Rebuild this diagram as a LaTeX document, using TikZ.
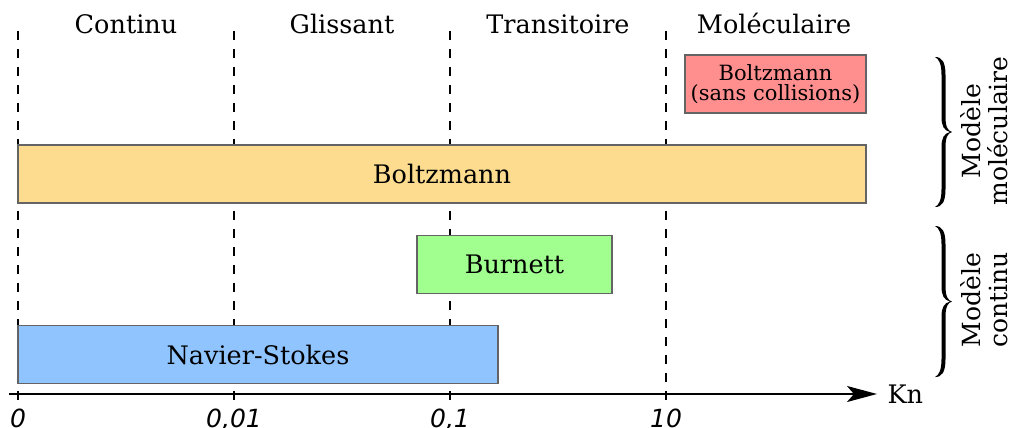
\documentclass[tikz,border=0pt]{standalone}
\usepackage{fontspec}
\setmainfont{DejaVu Serif}
\newfontfamily\tickfont{DejaVu Sans}
\usetikzlibrary{arrows.meta}
\definecolor{redbox}{RGB}{255,143,143}
\definecolor{yellowbox}{RGB}{253,220,143}
\definecolor{greenbox}{RGB}{160,255,143}
\definecolor{bluebox}{RGB}{143,196,255}
\definecolor{boxline}{RGB}{100,100,100}
\begin{document}
\begin{tikzpicture}[x=1pt,y=-1pt,
  modelbox/.style={draw=boxline,line width=1.2pt,inner sep=0pt,minimum height=58pt,
    font=\fontsize{25.5}{28}\selectfont,text=black},
  regime/.style={anchor=base,font=\fontsize{25.5}{28}\selectfont},
  tick/.style={anchor=base,font=\tickfont\itshape\fontsize{25}{28}\selectfont},
  sep/.style={line width=1.4pt,dash pattern=on 9pt off 9pt},
  side/.style={rotate=90,align=center,font=\fontsize{25}{27.5}\selectfont},
  bracepic/.pic={
    \fill[black] (0,0) .. controls (7,0) and (10.5,5) .. (10.5,18) -- (10.5,60)
      .. controls (10.5,70) and (13,74) .. (17,75)
      .. controls (13,76) and (10.5,80) .. (10.5,90) -- (10.5,132)
      .. controls (10.5,145) and (7,150) .. (0,150)
      .. controls (4,148) and (6.5,143) .. (6.5,132) -- (6.5,90)
      .. controls (6.5,81) and (9,76.5) .. (15,75)
      .. controls (9,73.5) and (6.5,69) .. (6.5,60) -- (6.5,18)
      .. controls (6.5,7) and (4,2) .. (0,0) -- cycle;
  }]
\useasboundingbox (0,0) rectangle (1009,428);
% dashed separators
\foreach \n/\x in {a/18,b/234,c/450,d/666}{
  \coordinate (top\n) at (\x,31);
  \coordinate (bot\n) at (\x,402);
  \draw[sep] (top\n) -- (bot\n);
}
% regime labels
\node[regime] (contin) at (126,33.5) {Continu};
\node[regime] (gliss) at (342,33.5) {Glissant};
\node[regime] (trans) at (558,33.5) {Transitoire};
\node[regime] (molec) at (774,33.5) {Moléculaire};
% boxes
\node[modelbox,fill=redbox,minimum width=181pt,align=center,font=\fontsize{21}{20.5}\selectfont] (bsc) at (775.5,84) {Boltzmann\\(sans collisions)};
\node[modelbox,fill=yellowbox,minimum width=848pt] (boltz) at (442,174) {Boltzmann};
\node[modelbox,fill=greenbox,minimum width=195pt] (burn) at (514.5,264.5) {Burnett};
\node[modelbox,fill=bluebox,minimum width=480pt] (ns) at (258,354.5) {Navier-Stokes};
% axis
\coordinate (axstart) at (9,394);
\coordinate (axend) at (877,394);
\draw[line width=2pt,-{Stealth[length=30pt,width=16pt,inset=7pt]}] (axstart) -- (axend);
\node[anchor=west,font=\fontsize{25.5}{28}\selectfont] (kn) at (884,394) {Kn};
% ticks
\node[tick] (t0) at (18,427) {0};
\node[tick] (t1) at (234,427) {0,01};
\node[tick] (t2) at (450,427) {0,1};
\node[tick] (t3) at (666,427) {10};
% braces
\pic at (935,57) {bracepic};
\pic[yscale=1.007] at (935,226) {bracepic};
\node[side] (mm) at (984,131) {Modèle\\moléculaire};
\node[side] (mc) at (984,300) {Modèle\\continu};
\end{tikzpicture}
\end{document}
